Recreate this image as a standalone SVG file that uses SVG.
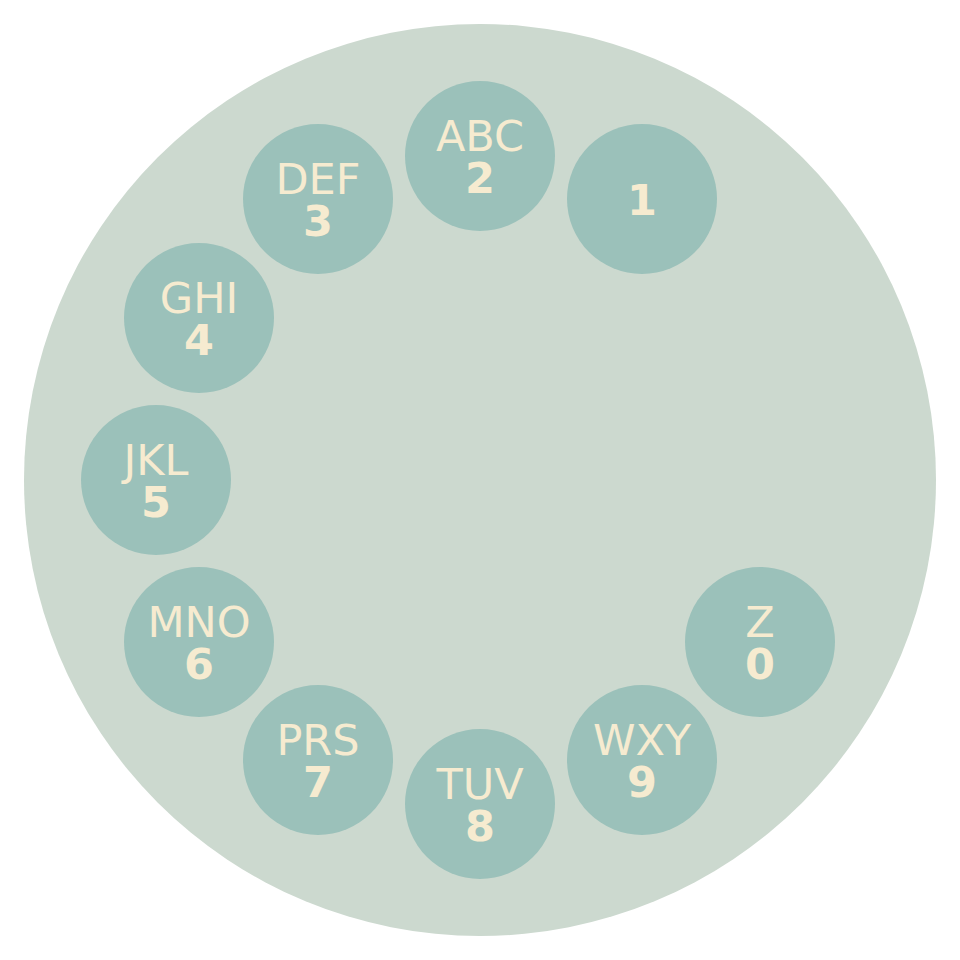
<svg xmlns="http://www.w3.org/2000/svg" width="960" height="960" viewBox="0 0 960 960">
<style>
.k{fill:#9bc1ba}
.t{font-family:"DejaVu Sans",sans-serif;font-size:43px;fill:#f6ebd0;text-anchor:middle}
.b{font-weight:bold}
</style>
<rect width="960" height="960" fill="#ffffff"/>
<circle id="dial" cx="480" cy="480" r="456" fill="#ccd9cf"/>
<g id="connectors"/>
<g id="k1"><circle class="k" cx="642" cy="199" r="75"/><text class="t b" x="642" y="215">1</text></g>
<g id="k2"><circle class="k" cx="480" cy="156" r="75"/><text class="t" x="480" y="151">ABC</text><text class="t b" x="480" y="193">2</text></g>
<g id="k3"><circle class="k" cx="318" cy="199" r="75"/><text class="t" x="318" y="194">DEF</text><text class="t b" x="318" y="236">3</text></g>
<g id="k4"><circle class="k" cx="199" cy="318" r="75"/><text class="t" x="199" y="313">GHI</text><text class="t b" x="199" y="355">4</text></g>
<g id="k5"><circle class="k" cx="156" cy="480" r="75"/><text class="t" x="156" y="475">JKL</text><text class="t b" x="156" y="517">5</text></g>
<g id="k6"><circle class="k" cx="199" cy="642" r="75"/><text class="t" x="199" y="637">MNO</text><text class="t b" x="199" y="679">6</text></g>
<g id="k7"><circle class="k" cx="318" cy="760" r="75"/><text class="t" x="318" y="755">PRS</text><text class="t b" x="318" y="797">7</text></g>
<g id="k8"><circle class="k" cx="480" cy="804" r="75"/><text class="t" x="480" y="799">TUV</text><text class="t b" x="480" y="841">8</text></g>
<g id="k9"><circle class="k" cx="642" cy="760" r="75"/><text class="t" x="642" y="755">WXY</text><text class="t b" x="642" y="797">9</text></g>
<g id="k0"><circle class="k" cx="760" cy="642" r="75"/><text class="t" x="760" y="637">Z</text><text class="t b" x="760" y="679">0</text></g>
</svg>
